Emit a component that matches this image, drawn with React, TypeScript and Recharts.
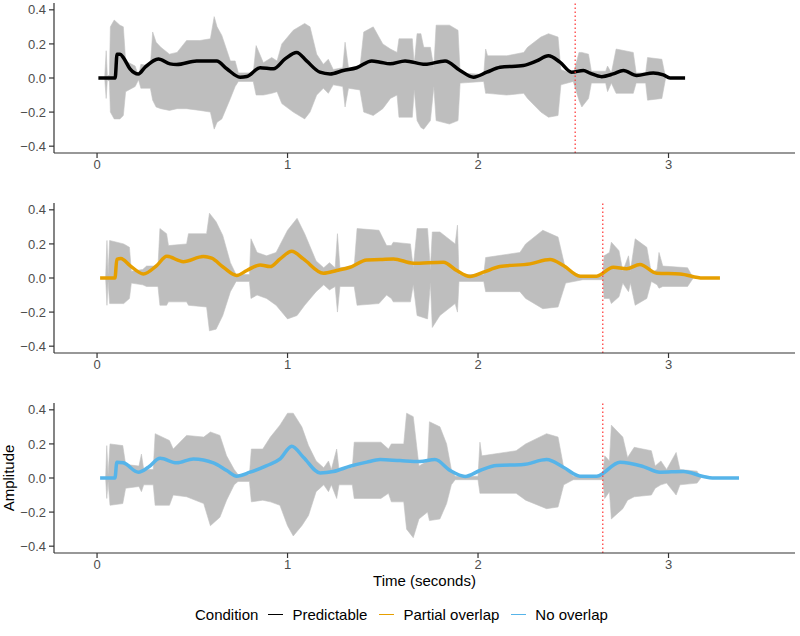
import React from 'react';
import { ComposedChart, Area, Line, XAxis, YAxis, ReferenceLine } from 'recharts';

// waveform envelopes (seconds, upper, lower)
const p1Time = [0.04, 0.048, 0.054, 0.065, 0.07, 0.09, 0.12, 0.138, 0.15, 0.2, 0.218, 0.23, 0.28, 0.292, 0.31, 0.335, 0.38, 0.42, 0.47, 0.54, 0.595, 0.615, 0.63, 0.655, 0.7, 0.725, 0.742, 0.82, 0.835, 0.873, 0.917, 0.945, 0.97, 1.03, 1.09, 1.118, 1.153, 1.188, 1.214, 1.24, 1.29, 1.302, 1.32, 1.38, 1.4, 1.45, 1.5, 1.54, 1.575, 1.585, 1.655, 1.665, 1.68, 1.7, 1.715, 1.75, 1.768, 1.78, 1.85, 1.895, 1.906, 2.03, 2.04, 2.05, 2.15, 2.24, 2.26, 2.33, 2.37, 2.42, 2.435, 2.5, 2.53, 2.545, 2.58, 2.595, 2.67, 2.68, 2.7, 2.725, 2.815, 2.83, 2.88, 2.89, 2.965, 2.985];
const p1Upper = [0, 0.16, 0.01, 0.02, 0.3, 0.34, 0.31, 0.3, 0.1, 0.07, 0.01, 0.08, 0.07, 0.27, 0.21, 0.18, 0.14, 0.15, 0.22, 0.22, 0.23, 0.36, 0.3, 0.25, 0.1, 0.1, 0.03, 0.03, 0.19, 0.09, 0.12, 0.1, 0.2, 0.28, 0.32, 0.3, 0.14, 0.08, 0.11, 0.05, 0.06, 0.21, 0.06, 0.06, 0.27, 0.3, 0.2, 0.17, 0.15, 0.23, 0.23, 0.08, 0.26, 0.26, 0.18, 0.18, 0.06, 0.31, 0.31, 0.28, 0.03, 0.02, 0.17, 0.13, 0.13, 0.15, 0.18, 0.24, 0.26, 0.24, 0.05, 0.02, 0.15, 0.15, 0.14, 0.04, 0.04, 0.07, 0.03, 0.17, 0.15, 0.03, 0.03, 0.12, 0.11, 0];
const p1Lower = [0, -0.12, -0.01, -0.02, -0.2, -0.24, -0.24, -0.22, -0.08, -0.05, -0.01, -0.06, -0.06, -0.13, -0.17, -0.18, -0.19, -0.18, -0.18, -0.19, -0.2, -0.3, -0.26, -0.24, -0.12, -0.05, -0.02, -0.02, -0.1, -0.1, -0.09, -0.08, -0.15, -0.2, -0.24, -0.2, -0.1, -0.06, -0.09, -0.04, -0.05, -0.17, -0.06, -0.07, -0.2, -0.22, -0.18, -0.12, -0.1, -0.23, -0.23, -0.07, -0.25, -0.29, -0.3, -0.25, -0.05, -0.25, -0.27, -0.25, -0.03, -0.02, -0.09, -0.09, -0.1, -0.09, -0.12, -0.2, -0.23, -0.22, -0.04, -0.02, -0.13, -0.17, -0.12, -0.03, -0.03, -0.08, -0.03, -0.09, -0.09, -0.03, -0.03, -0.13, -0.12, 0];

const p2Time = [0.045, 0.052, 0.058, 0.066, 0.14, 0.17, 0.18, 0.24, 0.26, 0.32, 0.33, 0.365, 0.375, 0.47, 0.48, 0.575, 0.59, 0.625, 0.66, 0.7, 0.73, 0.8, 0.808, 0.84, 0.89, 0.94, 1.0, 1.05, 1.09, 1.15, 1.19, 1.22, 1.25, 1.262, 1.275, 1.35, 1.365, 1.48, 1.52, 1.545, 1.555, 1.645, 1.66, 1.68, 1.735, 1.75, 1.76, 1.8, 1.88, 1.892, 1.9, 2.03, 2.04, 2.22, 2.25, 2.34, 2.42, 2.46, 2.55, 2.655, 2.662, 2.69, 2.7, 2.74, 2.76, 2.79, 2.8, 2.825, 2.886, 2.91, 2.94, 2.95, 2.97, 3.1, 3.13];
const p2Upper = [0, 0.22, 0.02, 0.22, 0.2, 0.18, 0.04, 0.05, 0.07, 0.07, 0.29, 0.26, 0.19, 0.2, 0.26, 0.26, 0.38, 0.33, 0.25, 0.09, 0.02, 0.02, 0.23, 0.15, 0.13, 0.15, 0.28, 0.35, 0.26, 0.1, 0.06, 0.09, 0.06, 0.26, 0.06, 0.07, 0.29, 0.28, 0.19, 0.19, 0.21, 0.2, 0.06, 0.29, 0.29, 0.05, 0.27, 0.27, 0.2, 0.31, 0.02, 0.02, 0.12, 0.15, 0.2, 0.28, 0.24, 0.05, 0.01, 0.01, 0.13, 0.15, 0.21, 0.16, 0.04, 0.13, 0.04, 0.23, 0.18, 0.03, 0.05, 0.15, 0.07, 0.06, 0];
const p2Lower = [0, -0.16, -0.02, -0.15, -0.15, -0.12, -0.03, -0.04, -0.05, -0.05, -0.16, -0.16, -0.14, -0.14, -0.16, -0.17, -0.31, -0.3, -0.22, -0.08, -0.02, -0.02, -0.12, -0.1, -0.12, -0.16, -0.24, -0.22, -0.16, -0.08, -0.04, -0.07, -0.05, -0.2, -0.05, -0.05, -0.16, -0.15, -0.1, -0.12, -0.14, -0.14, -0.04, -0.22, -0.24, -0.03, -0.29, -0.22, -0.15, -0.2, -0.02, -0.02, -0.08, -0.08, -0.12, -0.18, -0.17, -0.03, -0.01, -0.01, -0.12, -0.12, -0.15, -0.11, -0.03, -0.08, -0.03, -0.16, -0.12, -0.02, -0.04, -0.06, -0.05, -0.05, 0];

const p3Time = [0.045, 0.051, 0.058, 0.068, 0.135, 0.15, 0.22, 0.233, 0.245, 0.295, 0.305, 0.38, 0.4, 0.47, 0.56, 0.595, 0.645, 0.68, 0.72, 0.74, 0.8, 0.81, 0.87, 0.91, 0.96, 1.0, 1.03, 1.075, 1.11, 1.15, 1.19, 1.215, 1.23, 1.258, 1.27, 1.34, 1.35, 1.49, 1.53, 1.545, 1.61, 1.625, 1.66, 1.69, 1.735, 1.745, 1.8, 1.835, 1.86, 1.88, 2.0, 2.01, 2.02, 2.2, 2.25, 2.36, 2.42, 2.45, 2.5, 2.655, 2.665, 2.69, 2.7, 2.76, 2.785, 2.82, 2.91, 2.93, 2.96, 2.99, 3.04, 3.06, 3.15, 3.17];
const p3Upper = [0, 0.19, 0.02, 0.2, 0.19, 0.08, 0.07, 0.14, 0.05, 0.05, 0.26, 0.22, 0.17, 0.25, 0.24, 0.27, 0.25, 0.13, 0.05, 0.02, 0.02, 0.17, 0.17, 0.24, 0.31, 0.38, 0.38, 0.3, 0.19, 0.1, 0.06, 0.1, 0.05, 0.17, 0.05, 0.06, 0.21, 0.21, 0.17, 0.2, 0.2, 0.38, 0.36, 0.07, 0.1, 0.33, 0.3, 0.2, 0.05, 0.01, 0.01, 0.21, 0.13, 0.16, 0.2, 0.26, 0.24, 0.06, 0.01, 0.01, 0.13, 0.1, 0.31, 0.24, 0.12, 0.18, 0.16, 0.07, 0.1, 0.05, 0.15, 0.05, 0.04, 0];
const p3Lower = [0, -0.12, -0.02, -0.16, -0.15, -0.06, -0.05, -0.08, -0.04, -0.04, -0.16, -0.16, -0.1, -0.11, -0.15, -0.28, -0.23, -0.13, -0.04, -0.02, -0.02, -0.14, -0.13, -0.14, -0.16, -0.28, -0.34, -0.28, -0.22, -0.08, -0.04, -0.08, -0.04, -0.12, -0.04, -0.04, -0.12, -0.12, -0.09, -0.14, -0.14, -0.3, -0.35, -0.24, -0.2, -0.25, -0.24, -0.15, -0.04, -0.01, -0.01, -0.09, -0.09, -0.09, -0.13, -0.18, -0.17, -0.04, -0.01, -0.01, -0.12, -0.08, -0.24, -0.18, -0.13, -0.11, -0.1, -0.06, -0.04, -0.03, -0.1, -0.04, -0.03, 0];

// smoothed amplitude envelope per condition
const predTime = [0.007, 0.095, 0.105, 0.121, 0.138, 0.173, 0.217, 0.252, 0.322, 0.383, 0.418, 0.523, 0.628, 0.681, 0.751, 0.786, 0.856, 0.926, 0.987, 1.048, 1.1, 1.17, 1.223, 1.293, 1.363, 1.442, 1.486, 1.538, 1.617, 1.722, 1.827, 1.906, 1.976, 2.046, 2.116, 2.238, 2.308, 2.369, 2.43, 2.491, 2.553, 2.588, 2.649, 2.71, 2.763, 2.833, 2.92, 2.973, 3.008, 3.087];
const predEnv = [0, 0, 0.14, 0.14, 0.12, 0.054, 0.024, 0.063, 0.112, 0.083, 0.079, 0.1, 0.1, 0.054, 0.005, 0.009, 0.06, 0.054, 0.112, 0.15, 0.1, 0.034, 0.024, 0.044, 0.06, 0.1, 0.093, 0.083, 0.1, 0.08, 0.1, 0.044, 0.005, 0.034, 0.063, 0.073, 0.1, 0.13, 0.093, 0.034, 0.044, 0.028, 0.008, 0.024, 0.044, 0.015, 0.03, 0.018, 0, 0];

const partTime = [0.016, 0.094, 0.104, 0.125, 0.173, 0.243, 0.313, 0.366, 0.453, 0.558, 0.602, 0.663, 0.733, 0.786, 0.856, 0.908, 0.961, 1.022, 1.083, 1.188, 1.258, 1.328, 1.416, 1.486, 1.556, 1.66, 1.818, 1.888, 1.958, 2.028, 2.115, 2.273, 2.378, 2.448, 2.535, 2.623, 2.71, 2.78, 2.85, 2.938, 3.06, 3.18, 3.27];
const partEnv = [0, 0, 0.11, 0.115, 0.073, 0.024, 0.073, 0.127, 0.096, 0.126, 0.116, 0.063, 0.015, 0.044, 0.077, 0.067, 0.112, 0.157, 0.112, 0.028, 0.044, 0.063, 0.106, 0.108, 0.112, 0.087, 0.093, 0.044, 0.009, 0.034, 0.067, 0.083, 0.108, 0.073, 0.011, 0.011, 0.063, 0.054, 0.079, 0.028, 0.024, 0, 0];

const noTime = [0.016, 0.094, 0.104, 0.138, 0.217, 0.269, 0.331, 0.418, 0.506, 0.611, 0.681, 0.733, 0.803, 0.891, 0.961, 1.022, 1.083, 1.171, 1.24, 1.328, 1.416, 1.486, 1.59, 1.695, 1.774, 1.853, 1.932, 2.01, 2.098, 2.238, 2.36, 2.448, 2.535, 2.623, 2.745, 2.868, 2.955, 3.078, 3.183, 3.23, 3.37];
const noEnv = [0, 0, 0.093, 0.089, 0.034, 0.063, 0.116, 0.089, 0.112, 0.089, 0.044, 0.011, 0.034, 0.073, 0.112, 0.186, 0.122, 0.03, 0.038, 0.069, 0.093, 0.108, 0.102, 0.097, 0.108, 0.044, 0.009, 0.044, 0.073, 0.079, 0.108, 0.063, 0.011, 0.011, 0.093, 0.067, 0.034, 0.038, 0.009, 0, 0];

const onsets = [2.51, 2.655, 2.655];
const yTicks = [-0.4, -0.2, 0, 0.2, 0.4];
const xTicks = [0, 1, 2, 3];

const conditions = ['Predictable', 'Partial overlap', 'No overlap'];
const COLORS = ['#000000', '#E69F00', '#56B4E9'];

const font = '"Liberation Sans", Arial, sans-serif';

const panels = [
    { time: p1Time, upper: p1Upper, lower: p1Lower, envTime: predTime, env: predEnv },
    { time: p2Time, upper: p2Upper, lower: p2Lower, envTime: partTime, env: partEnv },
    { time: p3Time, upper: p3Upper, lower: p3Lower, envTime: noTime, env: noEnv },
];

const fmt = (v: number) => (v < 0 ? '\u2212' + Math.abs(v).toFixed(1) : v.toFixed(1));

const Panel = ({ index }: { index: number }) => {
    const p = panels[index];
    const wave = p.time.map((t, i) => ({ t, range: [p.lower[i], p.upper[i]] }));
    const env = p.envTime.map((t, i) => ({ t, v: p.env[i] }));
    const axisStyle = { stroke: '#333', strokeWidth: 1.2 };
    return (
        <ComposedChart width={800} height={200} margin={{ top: 3, right: 5, bottom: 17, left: 0 }}>
            <XAxis
                type="number"
                dataKey="t"
                domain={[-0.226, 3.664]}
                ticks={xTicks}
                allowDataOverflow
                height={30}
                axisLine={axisStyle}
                tickLine={axisStyle}
                tickSize={5}
                tick={{ fill: '#4D4D4D', fontSize: 13, fontFamily: font }}
            />
            <YAxis
                type="number"
                domain={[-0.44, 0.44]}
                ticks={yTicks}
                allowDataOverflow
                width={54}
                axisLine={axisStyle}
                tickLine={axisStyle}
                tickSize={5}
                tickMargin={3}
                tickFormatter={fmt}
                tick={{ fill: '#4D4D4D', fontSize: 13, fontFamily: font }}
            />
            <Area
                data={wave}
                dataKey="range"
                type="linear"
                stroke="#c2c2c2"
                strokeWidth={0.6}
                fill="#bebebe"
                fillOpacity={1}
                isAnimationActive={false}
            />
            <Line
                data={env}
                dataKey="v"
                type="monotone"
                stroke={COLORS[index]}
                strokeWidth={3.5}
                dot={false}
                isAnimationActive={false}
            />
            <ReferenceLine x={onsets[index]} stroke="#ff3030" strokeWidth={1.2} strokeDasharray="1.5 2.5" />
        </ComposedChart>
    );
};

export default function App() {
    return (
        <div style={{ position: 'absolute', left: 0, top: 0, width: 800, height: 636, background: '#fff', fontFamily: font }}>
            {[0, 1, 2].map(i => (
                <div key={i} style={{ position: 'absolute', left: 0, top: i * 200 }}>
                    <Panel index={i} />
                </div>
            ))}
            <div
                style={{
                    position: 'absolute',
                    left: 8,
                    top: 478,
                    transform: 'translate(-50%, -50%) rotate(-90deg)',
                    fontSize: 15,
                    whiteSpace: 'nowrap',
                }}
            >
                Amplitude
            </div>
            <div style={{ position: 'absolute', left: 0, width: 849, top: 572, textAlign: 'center', fontSize: 15 }}>
                Time (seconds)
            </div>
            <div style={{ position: 'absolute', left: 195, top: 606, display: 'flex', alignItems: 'center', fontSize: 15, whiteSpace: 'nowrap' }}>
                <span style={{ marginRight: 10 }}>Condition</span>
                {conditions.map((c, i) => (
                    <span key={c} style={{ display: 'flex', alignItems: 'center', marginRight: 12 }}>
                        <span style={{ display: 'inline-block', width: 15, height: 1.5, background: COLORS[i], marginRight: 9 }} />
                        <span>{c}</span>
                    </span>
                ))}
            </div>
        </div>
    );
}
